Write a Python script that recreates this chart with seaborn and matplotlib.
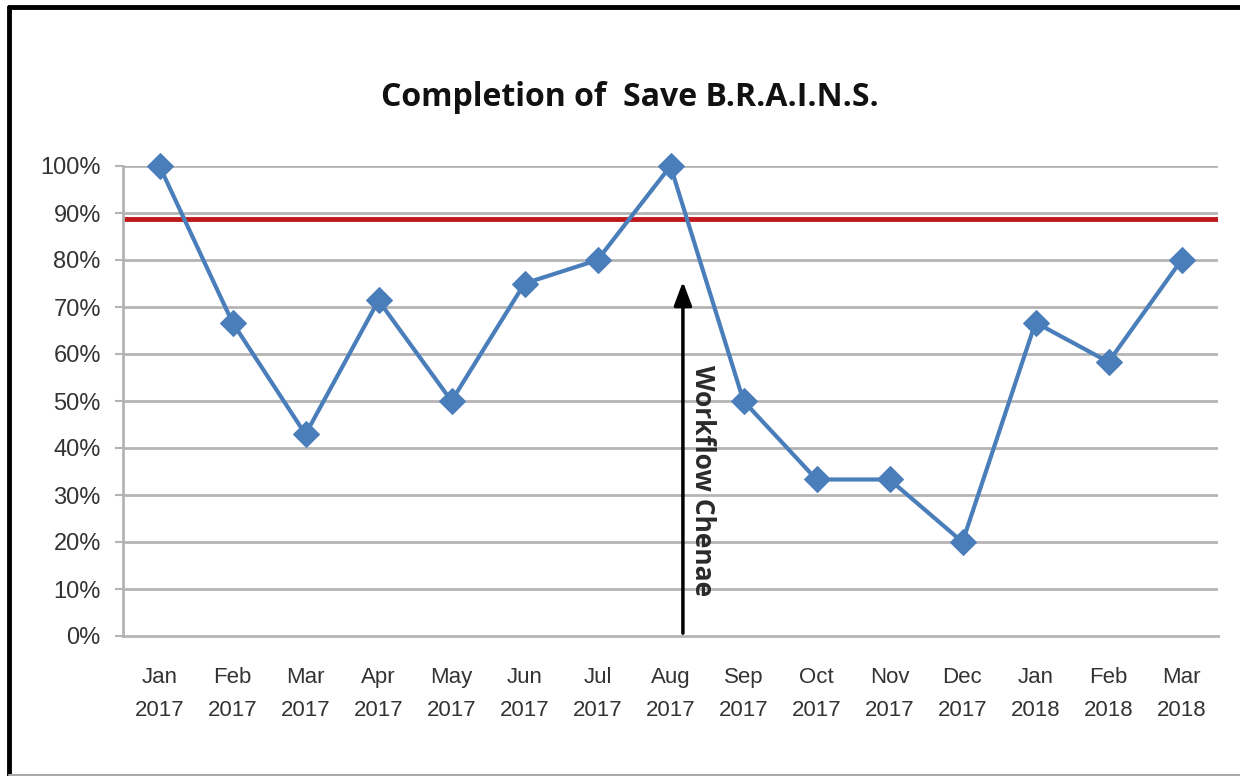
import matplotlib
matplotlib.use("Agg")
import matplotlib.pyplot as plt
from matplotlib.lines import Line2D
import seaborn as sns
import pandas as pd
import numpy as np

months = ["Jan\n2017", "Feb\n2017", "Mar\n2017", "Apr\n2017", "May\n2017", "Jun\n2017",
          "Jul\n2017", "Aug\n2017", "Sep\n2017", "Oct\n2017", "Nov\n2017", "Dec\n2017",
          "Jan\n2018", "Feb\n2018", "Mar\n2018"]
completion = [1.00, 0.667, 0.429, 0.714, 0.50, 0.75, 0.80, 1.00, 0.50, 0.333, 0.333, 0.20,
              0.667, 0.583, 0.80]
target = 0.887
y_ticks = [0.0, 0.1, 0.2, 0.3, 0.4, 0.5, 0.6, 0.7, 0.8, 0.9, 1.0]
y_labels = ["0%", "10%", "20%", "30%", "40%", "50%", "60%", "70%", "80%", "90%", "100%"]
title = "Completion of  Save B.R.A.I.N.S."
annotation = "Workflow Chenae"
arrow_x = 7.17
arrow_top = 0.76

sns.set_theme(style="white")
narrow = ["Liberation Sans", "DejaVu Sans"]
plt.rcParams["font.family"] = ["Open Sans", "DejaVu Sans"]

df = pd.DataFrame({"idx": np.arange(len(months)), "val": completion})

fig = plt.figure(figsize=(12.4, 7.76), dpi=100)
ax = fig.add_axes([123 / 1240, 1 - 636 / 776, (1218 - 123) / 1240, (636 - 166) / 776])

grid_c = "#b4b4b4"
for yt in y_ticks[1:]:
    ax.axhline(yt, color=grid_c, lw=2, zorder=1)

ax.axhline(target, color="#c0181c", lw=3.5, zorder=2)

sns.lineplot(data=df, x="idx", y="val", ax=ax, color="#4a7ebb", lw=3, marker="D",
             markersize=13, markeredgecolor="#4a7ebb", zorder=4, clip_on=False)

ax.annotate("", xy=(arrow_x, arrow_top), xytext=(arrow_x, 0.0),
            arrowprops=dict(arrowstyle="-|>,head_length=1.2,head_width=0.45",
                            color="black", lw=2.5), zorder=5)
ax.text(arrow_x + 0.27, 0.33, annotation, rotation=-90, ha="center", va="center",
        fontsize=19, fontweight="bold", color="#2a2a2a", zorder=5)

ax.set_xlim(-0.5, len(months) - 0.5)
ax.set_ylim(0, 1.0)
ax.set_xticks(np.arange(len(months)))
ax.set_xticklabels(months, family=narrow, fontsize=16, color="#333333", linespacing=1.75)
ax.set_xticks(np.arange(-0.5, len(months)), minor=True)
ax.tick_params(axis="x", which="major", length=0, pad=22)
ax.tick_params(axis="x", which="minor", length=8, width=1.5, color=grid_c, direction="out")
ax.set_yticks(y_ticks)
ax.set_yticklabels(y_labels, family=narrow, fontsize=17, color="#333333")
ax.tick_params(axis="y", length=6, width=1.5, color=grid_c, direction="out", pad=10, left=True)
ax.set_xlabel("")
ax.set_ylabel("")

for s in ["top", "right"]:
    ax.spines[s].set_visible(False)
for s in ["left", "bottom"]:
    ax.spines[s].set_color(grid_c)
    ax.spines[s].set_linewidth(2)

fig.text(630 / 1240, 1 - 97 / 776, title, ha="center", va="center", fontsize=23,
         fontweight="bold", color="#111111")

# outer frame
fig.add_artist(Line2D([9 / 1240, 9 / 1240], [0, 1 - 7 / 776], transform=fig.transFigure,
                      color="black", lw=3.5))
fig.add_artist(Line2D([9 / 1240, 1], [1 - 7 / 776, 1 - 7 / 776], transform=fig.transFigure,
                      color="black", lw=3.5))
fig.add_artist(Line2D([9 / 1240, 1], [1 / 776, 1 / 776], transform=fig.transFigure,
                      color="#aaaaaa", lw=1.5))

fig.savefig("out.png", dpi=100)
